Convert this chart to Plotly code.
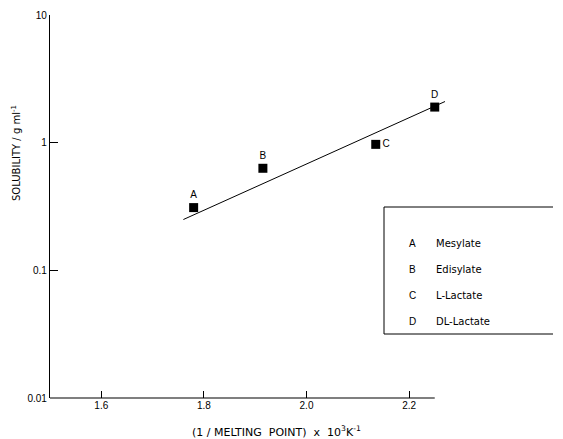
import plotly.graph_objects as go

# Data
labels = ["A", "B", "C", "D"]
salt_names = ["Mesylate", "Edisylate", "L-Lactate", "DL-Lactate"]
inv_mp = [1.78, 1.915, 2.135, 2.25]
solubility = [0.31, 0.63, 0.97, 1.9]
fit_x = [1.76, 2.27]
fit_y = [0.25, 2.1]
x_ticks = [1.6, 1.8, 2.0, 2.2]
x_ticktext = ["1.6", "1.8", "2.0", "2.2"]
y_ticks = [0.01, 0.1, 1, 10]
y_ticktext = ["0.01", "0.1", "1", "10"]
label_pos = ["top center", "top center", "middle right", "top center"]

FONT = "Liberation Sans, Arial, sans-serif"
WIDE = "DejaVu Sans, sans-serif"

fig = go.Figure()
fig.add_trace(go.Scatter(x=fit_x, y=fit_y, mode="lines",
                         line=dict(color="black", width=1), showlegend=False,
                         hoverinfo="skip"))
fig.add_trace(go.Scatter(x=inv_mp, y=solubility, mode="markers+text",
                         marker=dict(symbol="square", size=9, color="black"),
                         text=labels, textposition=label_pos,
                         textfont=dict(size=10, color="black", family=FONT),
                         cliponaxis=False, showlegend=False))

# x-axis line drawn only to 2.25
fig.add_shape(type="line", xref="x", yref="paper", x0=1.5, x1=2.25, y0=0, y1=0,
              line=dict(color="black", width=1.2))

# legend box, open on the right (paper fractions from page pixels; plot area 50..445 x, 15..398 y)
bx0 = (384 - 50) / 395
bx1 = (553 - 50) / 395
by0 = (398 - 334) / 383
by1 = (398 - 207) / 383
for (xa, ya, xb, yb) in [(bx0, by0, bx0, by1), (bx0, by1, bx1, by1), (bx0, by0, bx1, by0)]:
    fig.add_shape(type="line", xref="paper", yref="paper", x0=xa, y0=ya, x1=xb, y1=yb,
                  line=dict(color="black", width=1))
rows_y = [243, 269, 295, 321]
for lab, name, py in zip(labels, salt_names, rows_y):
    yp = (398 - py) / 383
    fig.add_annotation(xref="paper", yref="paper", x=(412 - 50) / 395, y=yp,
                       text=lab, showarrow=False, xanchor="center", yanchor="middle",
                       font=dict(size=10, color="black", family=FONT))
    fig.add_annotation(xref="paper", yref="paper", x=(434 - 50) / 395, y=yp,
                       text=name, showarrow=False, xanchor="left", yanchor="middle",
                       font=dict(size=10, color="black", family=WIDE))

# axis titles
fig.add_annotation(xref="paper", yref="paper", x=(276 - 50) / 395, y=(398 - 431) / 383,
                   text="(1 / MELTING  POINT)  x  10<sup>3</sup>K<sup>-1</sup>",
                   showarrow=False, xanchor="center", yanchor="middle",
                   font=dict(size=11, color="black", family=WIDE))
fig.add_annotation(xref="paper", yref="paper", x=(16 - 50) / 395, y=(398 - 153) / 383,
                   text="SOLUBILITY / g ml<sup>-1</sup>", textangle=-90,
                   showarrow=False, xanchor="center", yanchor="middle",
                   font=dict(size=10, color="black", family=WIDE))

fig.update_xaxes(range=[1.5, 2.27], tickvals=x_ticks, ticktext=x_ticktext,
                 ticks="inside", ticklen=7, tickcolor="black", tickwidth=1,
                 showline=False, showgrid=False, zeroline=False,
                 tickfont=dict(size=10, color="black", family=FONT))
fig.update_yaxes(type="log", range=[-2, 1], tickvals=y_ticks, ticktext=y_ticktext,
                 ticks="inside", ticklen=8, tickcolor="black", tickwidth=1,
                 showline=True, linecolor="black", linewidth=1.2,
                 showgrid=False, zeroline=False,
                 tickfont=dict(size=10, color="black", family=FONT))

# page body adds an 8px offset, so margins are reduced by 8px on left/top
fig.update_layout(width=563, height=439,
                  margin=dict(l=42, r=126, t=7, b=49, autoexpand=False),
                  paper_bgcolor="white", plot_bgcolor="white",
                  font=dict(family=FONT, color="black"),
                  showlegend=False)

fig.write_html("out.html")
